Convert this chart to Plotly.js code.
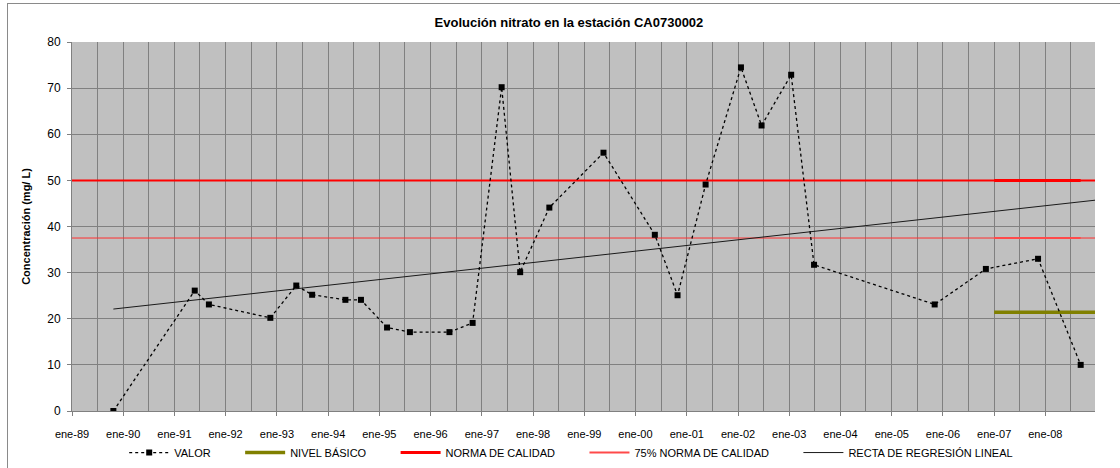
<!DOCTYPE html>
<html>
<head>
<meta charset="utf-8">
<script src="https://cdn.plot.ly/plotly-3.0.1.min.js"></script>
<style>
html,body{margin:0;padding:0;background:#fff;}
#wrap{position:relative;width:1120px;height:468px;overflow:hidden;}
#chart{position:absolute;left:0;top:0;width:1120px;height:468px;}
#frame{position:absolute;left:7px;top:3px;width:1300px;height:700px;border:1px solid #8a8a8a;pointer-events:none;}
</style>
</head>
<body>
<div id="wrap"><div id="chart"></div><div id="frame"></div></div>
<script>
// Sample dates and nitrate values (mg/L)
const valorDates = ['1989-10-23','1991-05-26','1991-09-04','1992-11-15','1993-05-19','1993-09-09','1994-05-04','1994-08-23','1995-02-25','1995-08-07','1996-05-15','1996-10-27','1997-05-22','1997-10-01','1998-04-27','1999-05-18','2000-05-18','2000-10-27','2001-05-15','2002-01-22','2002-06-18','2003-01-15','2003-06-27','2005-11-03','2006-11-03','2007-11-10','2008-09-09'];
const valorValues = [0,26.1,23.1,20.2,27.2,25.2,24.1,24.1,18.1,17.1,17.1,19.1,70.2,30.1,44.1,56.0,38.2,25.1,49.1,74.5,61.9,72.9,31.7,23.1,30.8,33.0,10.0];

// Reference levels
const axisStart = '1989-01-01';
const axisEnd = '2008-12-20';
const fullDates = [axisStart, axisEnd];
const normaValue = 50;
const norma75Value = 37.5;
const seriesDates = ['2007-01-01','2008-09-09'];
const basicoDates = ['2007-01-01','2008-12-20'];
const basicoValue = 21.4;

// Linear regression line end points
const regDates = ['1989-10-23','2008-12-20'];
const regValues = [22.1,45.7];

// Axis ticks
const tickDates = ['1989-01-01','1990-01-01','1991-01-01','1992-01-01','1993-01-01','1994-01-01','1995-01-01','1996-01-01','1997-01-01','1998-01-01','1999-01-01','2000-01-01','2001-01-01','2002-01-01','2003-01-01','2004-01-01','2005-01-01','2006-01-01','2007-01-01','2008-01-01'];
const tickLabels = ['ene-89','ene-90','ene-91','ene-92','ene-93','ene-94','ene-95','ene-96','ene-97','ene-98','ene-99','ene-00','ene-01','ene-02','ene-03','ene-04','ene-05','ene-06','ene-07','ene-08'];

// Legend names
const seriesNames = ['VALOR','NIVEL BÁSICO','NORMA DE CALIDAD','75% NORMA DE CALIDAD','RECTA DE REGRESIÓN LINEAL'];

const F = 'Liberation Sans, Arial, sans-serif';
const c = v => [v, v];
const gap = '\u00a0'.repeat(8);

const traces = [
  {x: fullDates, y: c(normaValue), mode:'lines', line:{color:'#FF0000', width:2}, showlegend:false, hoverinfo:'skip'},
  {x: fullDates, y: c(norma75Value), mode:'lines', line:{color:'#FF3030', width:1}, showlegend:false, hoverinfo:'skip'},
  {x: basicoDates, y: c(basicoValue), mode:'lines', name:seriesNames[1] + gap, line:{color:'#808000', width:3.5}, legendrank:2},
  {x: seriesDates, y: c(normaValue), mode:'lines', name:seriesNames[2] + gap, line:{color:'#FF0000', width:3}, legendrank:3},
  {x: seriesDates, y: c(norma75Value), mode:'lines', name:seriesNames[3] + gap, line:{color:'#FF4A4A', width:2}, legendrank:4},
  {x: regDates, y: regValues, mode:'lines', name:seriesNames[4], line:{color:'#1a1a1a', width:1}, legendrank:5},
  {x: valorDates, y: valorValues, mode:'lines+markers', name:seriesNames[0] + gap, line:{color:'#000000', width:1.3, dash:'dot'}, marker:{symbol:'square', size:6, color:'#000000'}, legendrank:1}
];

const layout = {
  width:1120, height:468,
  margin:{l:72, r:25, t:42, b:57},
  paper_bgcolor:'#FFFFFF',
  plot_bgcolor:'#C0C0C0',
  font:{family:F, size:11, color:'#000'},
  title:{text:'<b>Evolución nitrato en la estación CA0730002</b>', font:{family:F, size:13, color:'#000'}, x:0.508, xanchor:'center', xref:'container', y:0.951, yref:'container', yanchor:'middle'},
  xaxis:{
    type:'date', range:[axisStart, axisEnd],
    tickmode:'array', tickvals:tickDates, ticktext:tickLabels,
    ticks:'outside', ticklen:4, tickcolor:'#808080', tickwidth:1,
    showgrid:true, gridcolor:'#808080', gridwidth:1,
    minor:{dtick:'M6', tick0:'1989-01-01', showgrid:true, gridcolor:'#808080', gridwidth:1, ticks:''},
    showline:true, linecolor:'#808080', linewidth:1,
    zeroline:false, tickfont:{family:F, size:11}, ticklabelstandoff:9
  },
  yaxis:{
    range:[0,80], dtick:10, tick0:0,
    ticks:'outside', ticklen:4, tickcolor:'#808080',
    showgrid:true, gridcolor:'#808080', gridwidth:1,
    showline:true, linecolor:'#808080', linewidth:1,
    zeroline:false, tickfont:{family:F, size:12}, ticklabelstandoff:4,
    title:{text:'<b>Concentración (mg/ L)</b>', font:{family:F, size:11}, standoff:14}
  },
  legend:{orientation:'h', x:0.51, xref:'container', xanchor:'center', y:0.033, yref:'container', yanchor:'middle', font:{family:F, size:11}, bgcolor:'rgba(0,0,0,0)', itemwidth:40, traceorder:'normal'},
  showlegend:true
};

Plotly.newPlot('chart', traces, layout, {staticPlot:true, displayModeBar:false});
</script>
</body>
</html>
